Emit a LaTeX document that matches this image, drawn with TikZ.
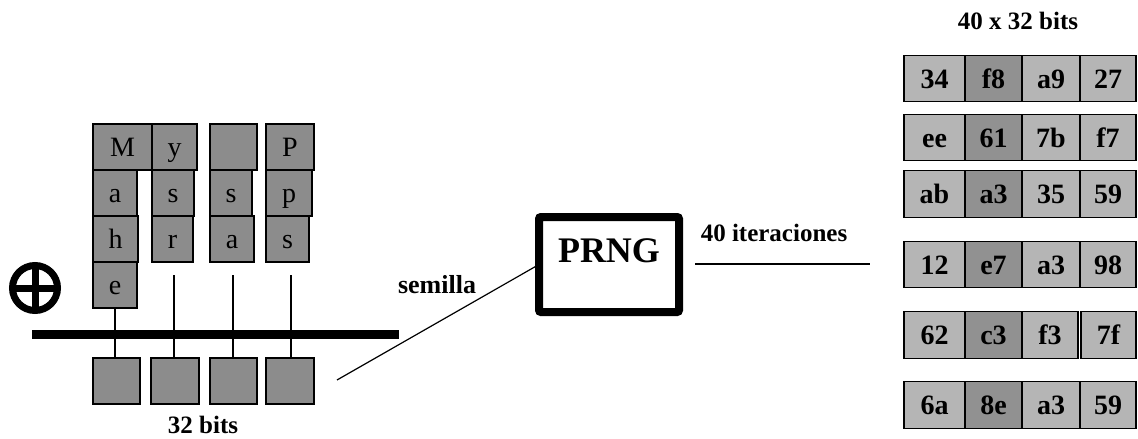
\documentclass[tikz,border=0pt]{standalone}
\usepackage{fontspec}
\setmainfont{Liberation Serif}
\usetikzlibrary{positioning}

\definecolor{chargray}{gray}{0.55}
\definecolor{celllight}{gray}{0.71}
\definecolor{celldark}{gray}{0.57}

\tikzset{
  charbox/.style={draw, fill=chargray, line width=1.2pt, minimum height=46pt,
    inner sep=0pt, outer sep=0pt, anchor=north west, text height=19pt, text depth=0pt,
    font=\fontsize{28}{30}\selectfont},
  hexcell/.style={draw, fill=celllight, line width=1.2pt, minimum height=46.5pt,
    inner sep=0pt, outer sep=0pt, text height=19pt, text depth=0pt,
    font=\bfseries\fontsize{28}{30}\selectfont},
  hexdark/.style={hexcell, fill=celldark},
  lbl/.style={inner sep=1pt, font=\bfseries\fontsize{25}{27}\selectfont},
}

\begin{document}
\begin{tikzpicture}[x=1pt, y=-1pt]
\useasboundingbox (0,0) rectangle (1138,439);

% password characters, four columns
\node[charbox, minimum width=59pt] (cM) at (93,124) {M};
\node[charbox, minimum width=44pt, below right=0pt and 0pt of cM.south west] (ca) {a};
\node[charbox, minimum width=45pt, below right=0pt and 0pt of ca.south west] (ch) {h};
\node[charbox, minimum width=44pt, below right=0pt and 0pt of ch.south west] (ce) {e};

\node[charbox, minimum width=45pt] (cy) at (152,124) {y};
\node[charbox, minimum width=42pt, below right=0pt and 0pt of cy.south west] (cs1) {s};
\node[charbox, minimum width=41pt, below right=0pt and 0pt of cs1.south west] (cr) {r};

\node[charbox, minimum width=47pt] (cblank) at (210,124) {};
\node[charbox, minimum width=42pt, below right=0pt and 0pt of cblank.south west] (cs2) {s};
\node[charbox, minimum width=44pt, below right=0pt and 0pt of cs2.south west] (ca2) {a};

\node[charbox, minimum width=48pt] (cP) at (266,124) {P};
\node[charbox, minimum width=46pt, below right=0pt and 0pt of cP.south west] (cp) {p};
\node[charbox, minimum width=43pt, below right=0pt and 0pt of cp.south west] (cs3) {s};

% xor result, 32 bits
\node[charbox, minimum width=47pt] (b1) at (93,358) {};
\node[charbox, minimum width=48pt] (b2) at (151,358) {};
\node[charbox, minimum width=47pt] (b3) at (210,358) {};
\node[charbox, minimum width=48pt] (b4) at (266,358) {};
\node[lbl] (bits) at (203,425) {32 bits};

\coordinate (t2) at (174,275);
\coordinate (t3) at (233,275);
\coordinate (t4) at (291,275);
\draw[line width=1.2pt] (ce.south) -- (ce.south |- b1.north);
\draw[line width=1.2pt] (t2) -- (t2 |- b2.north);
\draw[line width=1.2pt] (t3) -- (t3 |- b3.north);
\draw[line width=1.2pt] (t4) -- (t4 |- b4.north);

% xor bus
\coordinate (busL) at (32,334);
\coordinate (busR) at (399,334);
\draw[line width=9pt] (busL) -- (busR);
\node[draw, circle, line width=7pt, minimum size=45pt, inner sep=0pt, outer sep=0pt] (xor) at (35,288) {};
\draw[line width=7pt] (xor.north) -- (xor.south);
\draw[line width=7pt] (xor.west) -- (xor.east);

% generator
\node[draw, line width=8pt, rounded corners=2pt, minimum width=140pt, minimum height=95pt,
  inner sep=0pt, outer sep=0pt, text height=25pt, text depth=30pt,
  font=\bfseries\fontsize{36}{38}\selectfont] (prng) at (609,264.5) {PRNG};
\coordinate (seed) at (337,380);
\draw[line width=1.2pt] (seed) -- (prng.west);
\node[lbl, font=\bfseries\fontsize{26}{28}\selectfont] (semilla) at (437,285) {semilla};

\coordinate (it1) at (695,264);
\coordinate (it2) at (870,264);
\draw[line width=1.2pt] (it1) -- (it2);
\node[lbl] (iter) at (774,233) {40 iteraciones};

% output table
\node[lbl] (table) at (1018,21) {40 x 32 bits};

\node[hexcell, minimum width=61pt] (r1c1) at (934.5,78.5) {34};
\node[hexdark, minimum width=57pt, right=0pt of r1c1] (r1c2) {f8};
\node[hexcell, minimum width=58pt, right=0pt of r1c2] (r1c3) {a9};
\node[hexcell, minimum width=56pt, right=0pt of r1c3] (r1c4) {27};

\node[hexcell, minimum width=61pt] (r2c1) at (934.5,137.5) {ee};
\node[hexdark, minimum width=57pt, right=0pt of r2c1] (r2c2) {61};
\node[hexcell, minimum width=58pt, right=0pt of r2c2] (r2c3) {7b};
\node[hexcell, minimum width=56pt, right=0pt of r2c3] (r2c4) {f7};

\node[hexcell, minimum width=61pt] (r3c1) at (934.5,194) {ab};
\node[hexdark, minimum width=57pt, right=0pt of r3c1] (r3c2) {a3};
\node[hexcell, minimum width=58pt, right=0pt of r3c2] (r3c3) {35};
\node[hexcell, minimum width=56pt, right=0pt of r3c3] (r3c4) {59};

\node[hexcell, minimum width=61pt] (r4c1) at (934.5,264.5) {12};
\node[hexdark, minimum width=57pt, right=0pt of r4c1] (r4c2) {e7};
\node[hexcell, minimum width=58pt, right=0pt of r4c2] (r4c3) {a3};
\node[hexcell, minimum width=56pt, right=0pt of r4c3] (r4c4) {98};

\node[hexcell, minimum width=61pt] (r5c1) at (934.5,335) {62};
\node[hexdark, minimum width=57pt, right=0pt of r5c1] (r5c2) {c3};
\node[hexcell, minimum width=56pt, right=0pt of r5c2] (r5c3) {f3};
\node[hexcell, minimum width=55pt, right=3pt of r5c3] (r5c4) {7f};

\node[hexcell, minimum width=61pt] (r6c1) at (934.5,405) {6a};
\node[hexdark, minimum width=57pt, right=0pt of r6c1] (r6c2) {8e};
\node[hexcell, minimum width=58pt, right=0pt of r6c2] (r6c3) {a3};
\node[hexcell, minimum width=56pt, right=0pt of r6c3] (r6c4) {59};

\end{tikzpicture}
\end{document}
